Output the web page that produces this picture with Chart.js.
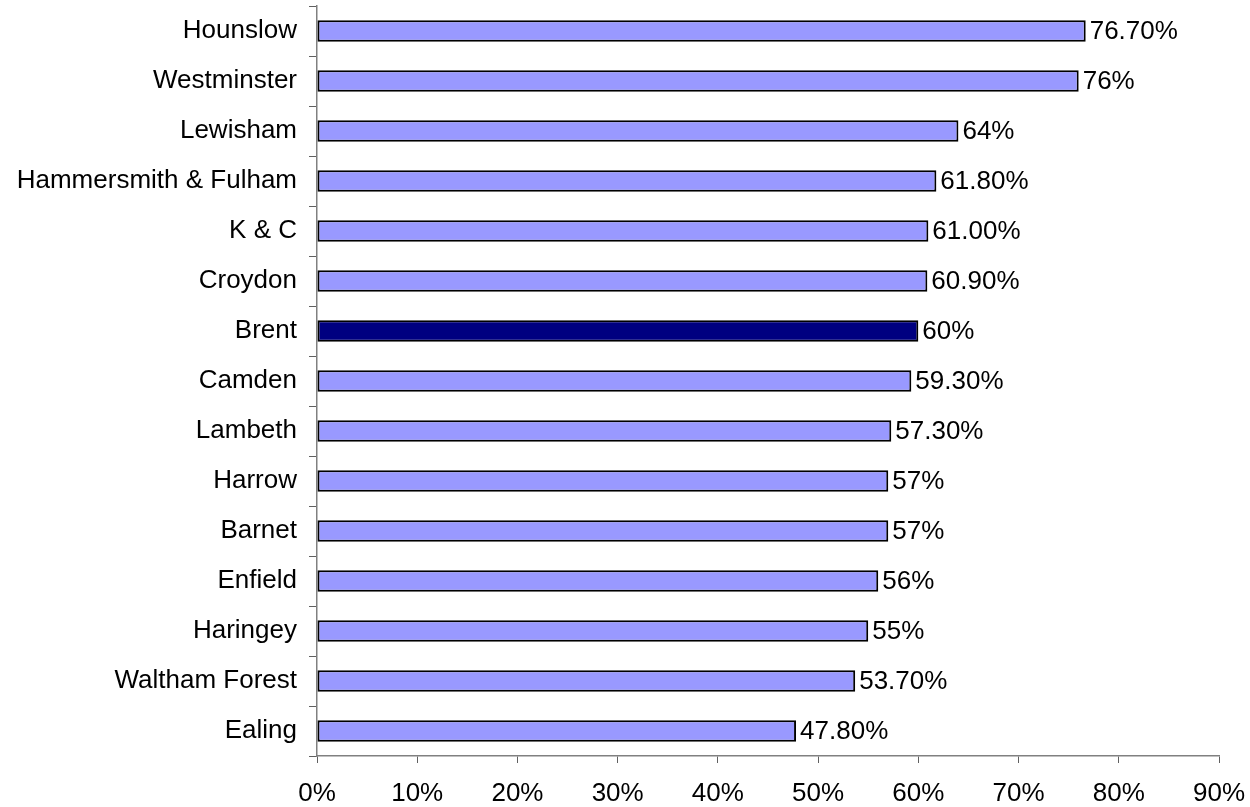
<!DOCTYPE html>
<html>
<head>
<meta charset="utf-8">
<script src="https://cdn.jsdelivr.net/npm/chart.js@4/dist/chart.umd.min.js"></script>
<style>
  html, body { margin: 0; padding: 0; background: #fff; }
  #wrap { width: 1250px; height: 807px; }
</style>
</head>
<body>
<div id="wrap"><canvas id="barChart" width="1250" height="807"></canvas></div>
<script>
const boroughs = ["Hounslow", "Westminster", "Lewisham", "Hammersmith & Fulham", "K & C",
    "Croydon", "Brent", "Camden", "Lambeth", "Harrow", "Barnet", "Enfield", "Haringey",
    "Waltham Forest", "Ealing"];
const rates = [76.7, 76, 64, 61.8, 61.0, 60.9, 60, 59.3, 57.3, 57, 57, 56, 55, 53.7, 47.8];
const rateLabels = ["76.70%", "76%", "64%", "61.80%", "61.00%", "60.90%", "60%", "59.30%",
    "57.30%", "57%", "57%", "56%", "55%", "53.70%", "47.80%"];
const highlight = "Brent";

const FONT = "'Liberation Sans', Arial, sans-serif";

// value labels at the end of each bar
const valueLabels = {
    id: "valueLabels",
    afterDatasetsDraw(chart) {
        const ctx = chart.ctx;
        const meta = chart.getDatasetMeta(0);
        ctx.save();
        ctx.font = "26px " + FONT;
        ctx.fillStyle = "#000";
        ctx.textAlign = "left";
        ctx.textBaseline = "middle";
        meta.data.forEach((bar, i) => {
            ctx.fillText(rateLabels[i], bar.x + 4, bar.y + 1);
        });
        ctx.restore();
    }
};

new Chart(document.getElementById("barChart"), {
    type: "bar",
    data: {
        labels: boroughs,
        datasets: [{
            data: rates,
            backgroundColor: boroughs.map(b => b === highlight ? "#000080" : "#9999FF"),
            borderColor: "#000",
            borderWidth: 2,
            borderSkipped: false,
            barPercentage: 0.43,
            categoryPercentage: 1
        }]
    },
    options: {
        indexAxis: "y",
        responsive: false,
        animation: false,
        layout: { padding: { top: 6, right: 31, left: 0, bottom: 0 } },
        plugins: {
            legend: { display: false },
            tooltip: { enabled: false }
        },
        scales: {
            x: {
                min: 0,
                max: 90,
                afterFit(axis) {
                    axis.height = 51;
                    axis.paddingLeft = 0;
                    axis.paddingRight = 0;
                },
                border: { color: "#808080", width: 1.5 },
                grid: {
                    drawOnChartArea: false,
                    color: "#606060",
                    tickLength: 7
                },
                ticks: {
                    stepSize: 10,
                    padding: 15,
                    color: "#000",
                    font: { size: 26, family: FONT },
                    callback: v => v + "%"
                }
            },
            y: {
                afterFit(axis) {
                    axis.width = 317;
                    axis.paddingTop = 0;
                    axis.paddingBottom = 0;
                },
                border: { color: "#808080", width: 1.5 },
                grid: {
                    drawOnChartArea: false,
                    color: "#606060",
                    tickLength: 8,
                    offset: true
                },
                ticks: {
                    padding: 12,
                    color: "#000",
                    font: { size: 26, family: FONT }
                }
            }
        }
    },
    plugins: [valueLabels]
});
</script>
</body>
</html>
